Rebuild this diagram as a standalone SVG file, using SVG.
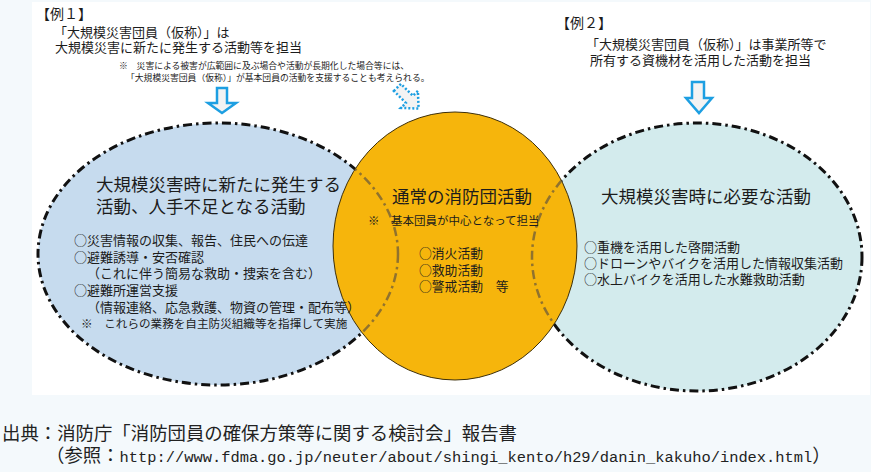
<svg xmlns="http://www.w3.org/2000/svg" width="871" height="472" viewBox="0 0 871 472">
<defs>
<style>
.t{font-family:"Noto Sans CJK JP","Noto Sans CJK SC",sans-serif;fill:#1c1c1c}
.ttl{font-size:17.5px}
.b{font-size:13px}
.bdr{fill:none;stroke:#111;stroke-width:3;stroke-dasharray:9 4 2.5 4}
.inner{fill:none;stroke:#6e5c3a;stroke-opacity:0.75;stroke-width:2.5;stroke-dasharray:9 4 2.5 4}
.arr{fill:#f3f3f3;stroke:#1d9fe2;stroke-width:2.5;stroke-linejoin:miter}
.foot{font-family:"Noto Sans CJK JP",sans-serif;fill:#222;font-size:18.4px}
</style>
<clipPath id="orangeClip"><ellipse cx="455" cy="246" rx="122" ry="134"/></clipPath>
</defs>
<rect x="0" y="0" width="871" height="472" fill="#f4f9fc"/>
<rect x="32" y="2" width="838" height="393" fill="#ffffff"/>

<g id="example1">
<text class="t" x="36" y="19" font-size="14">【例１】</text>
<text class="t" x="54" y="37" font-size="13">「大規模災害団員（仮称）」は</text>
<text class="t" x="55" y="52" font-size="13">大規模災害に新たに発生する活動等を担当</text>
<text class="t" x="119" y="69" font-size="8.8">※　災害による被害が広範囲に及ぶ場合や活動が長期化した場合等には、</text>
<text class="t" x="126" y="81" font-size="8.8">「大規模災害団員（仮称）」が基本団員の活動を支援することも考えられる。</text>
</g>

<g id="example2">
<text class="t" x="556" y="28" font-size="14">【例２】</text>
<text class="t" x="586" y="49" font-size="13">「大規模災害団員（仮称）」は事業所等で</text>
<text class="t" x="590" y="65" font-size="13">所有する資機材を活用した活動を担当</text>
</g>

<g id="left-ellipse">
<ellipse cx="218" cy="254" rx="180" ry="131" fill="#c6dbee"/>
<ellipse class="bdr" cx="218" cy="254" rx="180" ry="131"/>
</g>

<g id="right-ellipse">
<ellipse cx="697" cy="257" rx="165" ry="134" fill="#d3ebed"/>
<ellipse class="bdr" cx="697" cy="257" rx="165" ry="134"/>
</g>

<g id="center-circle">
<ellipse cx="455" cy="246" rx="122" ry="134" fill="#f6b50c" stroke="#3d2f0a" stroke-width="1"/>
<g clip-path="url(#orangeClip)">
<ellipse class="inner" cx="218" cy="254" rx="180" ry="131"/>
<ellipse class="inner" cx="697" cy="257" rx="165" ry="134"/>
</g>
<text class="t ttl" x="392" y="203">通常の消防団活動</text>
<text class="t" x="368" y="225" font-size="11.5">※　基本団員が中心となって担当</text>
<text class="t" x="419" y="258" font-size="12.8">○消火活動</text>
<text class="t" x="419" y="275" font-size="12.8">○救助活動</text>
<text class="t" x="419" y="291" font-size="12.8">○警戒活動　等</text>
</g>

<g id="left-texts">
<text class="t ttl" x="96" y="191">大規模災害時に新たに発生する</text>
<text class="t ttl" x="96" y="213">活動、人手不足となる活動</text>
<text class="t b" x="74" y="245">○災害情報の収集、報告、住民への伝達</text>
<text class="t b" x="74" y="262">○避難誘導・安否確認</text>
<text class="t b" x="87" y="278">（これに伴う簡易な救助・捜索を含む）</text>
<text class="t b" x="74" y="295">○避難所運営支援</text>
<text class="t b" x="87" y="312">（情報連絡、応急救護、物資の管理・配布等）</text>
<text class="t" x="81" y="328" font-size="11.6">※　これらの業務を自主防災組織等を指揮して実施</text>
</g>

<g id="right-texts">
<text class="t ttl" x="601" y="203">大規模災害時に必要な活動</text>
<text class="t b" x="584" y="252">○重機を活用した啓開活動</text>
<text class="t b" x="584" y="268">○ドローンやバイクを活用した情報収集活動</text>
<text class="t b" x="584" y="284">○水上バイクを活用した水難救助活動</text>
</g>

<g id="connectors">
<polygon class="arr" points="217,88 227,88 227,103 236,103 222,113 208,103 217,103"/>
<polygon class="arr" points="692,82 704,82 704,98 712,98 699,113 686,98 692,98"/>
<polygon class="arr" stroke-dasharray="2 2" transform="translate(408,98) rotate(-45)" points="-5,-15 5,-15 5,2 12,2 0,15 -12,2 -5,2"/>
</g>

<g id="footer">
<text class="foot" x="2" y="440">出典：消防庁「消防団員の確保方策等に関する検討会」報告書</text>
<text class="foot" x="46" y="462">（参照：<tspan font-family="Liberation Mono, monospace" font-size="15.4px">http://www.fdma.go.jp/neuter/about/shingi_kento/h29/danin_kakuho/index.html</tspan>）</text>
</g>
</svg>
